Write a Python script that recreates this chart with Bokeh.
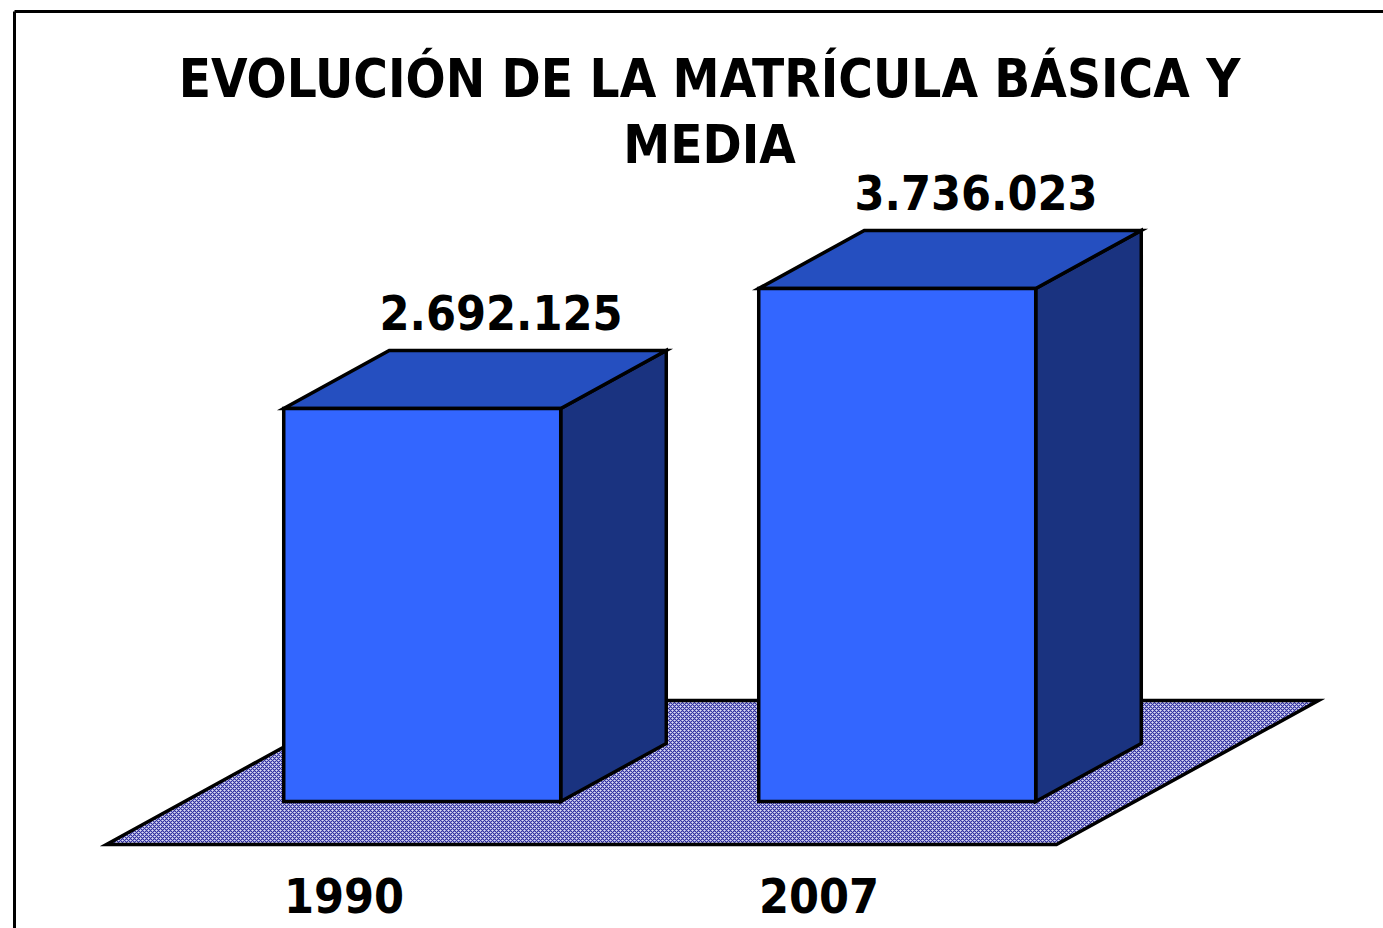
from bokeh.plotting import figure
from bokeh.models import Range1d
from bokeh.core.properties import value
from bokeh.embed import file_html
from bokeh.resources import INLINE

# ---------------- data ----------------
title_lines = ["EVOLUCIÓN DE LA MATRÍCULA BÁSICA Y", "MEDIA"]
years = ["1990", "2007"]
enrollment = [2692125, 3736023]
value_labels = ["2.692.125", "3.736.023"]

# ---------------- layout ----------------
W, H = 1383, 928
PAGE = 0
AXIS_MIN = -726750          # value at the floor line of the bars
UNITS_PER_PX = 8699.0       # value units per vertical pixel
BASE_PY = 801               # page y of the bar bottoms
FONT = "DejaVu Sans Condensed"

def y_of_page(py):
    return AXIS_MIN + (BASE_PY - py) * UNITS_PER_PX

def dy(px):
    return px * UNITS_PER_PX

SLOT0 = 343.5   # centre of first slot at the floor's front edge
SLOT_W = 475    # slot width
FLOOR_DX, FLOOR_DY = 262, 144
BAR_W = 277
BAR_F = 43 / 144   # depth fraction of bar front
BAR_B = 101 / 144  # depth fraction of bar back

FRONT_C = "#3366FF"
TOP_C = "#254FC0"
SIDE_C = "#1A3380"
LW = 3.5

p = figure(width=W, height=H, output_backend="svg", toolbar_location=None,
           x_range=Range1d(PAGE, PAGE + W), y_range=Range1d(y_of_page(PAGE + H), y_of_page(PAGE)),
           min_border=0, outline_line_color=None)
p.xaxis.visible = False
p.yaxis.visible = False
p.xgrid.visible = False
p.ygrid.visible = False
p.background_fill_color = "white"
p.border_fill_color = "white"

# outer frame (left and top edges visible)
p.line([14, 14], [y_of_page(PAGE + H + 10), y_of_page(11)], line_color="black", line_width=3)
p.line([14, PAGE + W + 10], [y_of_page(11), y_of_page(11)], line_color="black", line_width=3)

# floor
n = len(years)
fy0 = AXIS_MIN - dy(BAR_F * FLOOR_DY)
fy1 = fy0 + dy(FLOOR_DY)
fx0 = SLOT0 - SLOT_W / 2
fx1 = SLOT0 + (n - 1) * SLOT_W + SLOT_W / 2
p.patch([fx0, fx1, fx1 + FLOOR_DX, fx0 + FLOOR_DX], [fy0, fy0, fy1, fy1],
        fill_color="#dcdcf6", hatch_pattern="diagonal_cross", hatch_color="#2b2b9c",
        hatch_scale=4, hatch_weight=1.1,
        line_color="black", line_width=LW, line_join="miter")

# bars
bdx = (BAR_B - BAR_F) * FLOOR_DX
bdy = dy((BAR_B - BAR_F) * FLOOR_DY)
fronts_x, fronts_y, tops_x, tops_y, sides_x, sides_y = [], [], [], [], [], []
lab_x, lab_y = [], []
for i, v in enumerate(enrollment):
    c = SLOT0 + i * SLOT_W + BAR_F * FLOOR_DX
    L, R = c - BAR_W / 2, c + BAR_W / 2
    b = AXIS_MIN
    fronts_x.append([L, R, R, L]); fronts_y.append([b, b, v, v])
    tops_x.append([L, R, R + bdx, L + bdx]); tops_y.append([v, v, v + bdy, v + bdy])
    sides_x.append([R, R + bdx, R + bdx, R]); sides_y.append([b, b + bdy, v + bdy, v])
    lab_x.append(c + bdx / 2 + 26)
    lab_y.append(v + bdy + dy(38))

p.patches(sides_x, sides_y, fill_color=SIDE_C, line_color="black", line_width=LW, line_join="miter")
p.patches(tops_x, tops_y, fill_color=TOP_C, line_color="black", line_width=LW, line_join="miter")
p.patches(fronts_x, fronts_y, fill_color=FRONT_C, line_color="black", line_width=LW, line_join="miter")

# value labels
p.text(x=lab_x, y=lab_y, text=value_labels, text_font=value(FONT), text_font_style="bold",
       text_font_size="48px", text_align="center", text_baseline="middle", text_color="black")

# category labels
cat_x = [SLOT0 + i * SLOT_W for i in range(n)]
cat_y = [y_of_page(894.5)] * n
p.text(x=cat_x, y=cat_y, text=years, text_font=value(FONT), text_font_style="bold",
       text_font_size="48px", text_align="center", text_baseline="middle", text_color="black")

# title
p.text(x=[709, 709], y=[y_of_page(77.5), y_of_page(143.5)], text=title_lines, text_font=value(FONT),
       text_font_style="bold", text_font_size="52.5px", text_align="center",
       text_baseline="middle", text_color="black")

open("out.html", "w").write(file_html(p, INLINE))
